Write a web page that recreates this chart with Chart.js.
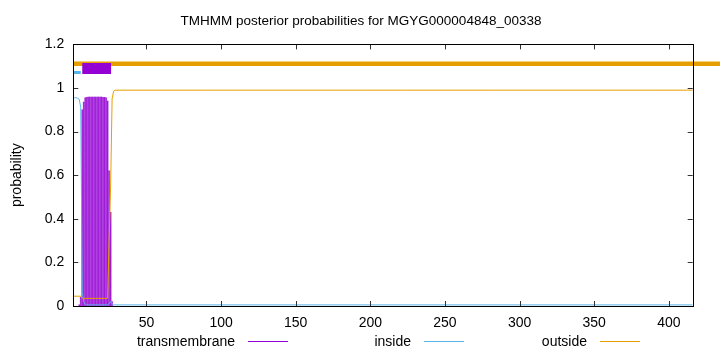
<!DOCTYPE html>
<html><head><meta charset="utf-8">
<script src="https://cdn.jsdelivr.net/npm/chart.js@4/dist/chart.umd.min.js"></script>
<style>
html,body{margin:0;padding:0;background:#fff;}
#wrap{position:relative;width:720px;height:352px;overflow:hidden;}
canvas{position:absolute;left:0;top:0;}
#title{position:absolute;left:0;top:13px;width:722px;text-align:center;height:18px;line-height:18px;font:13.5px 'Liberation Sans',Arial,sans-serif;color:#000;white-space:nowrap;}
.lt{position:absolute;top:333px;height:16px;line-height:16px;width:160px;text-align:right;font:14px 'Liberation Sans',Arial,sans-serif;color:#000;white-space:nowrap;}
.ll{position:absolute;top:341px;height:1px;width:40px;}
</style></head><body>
<div id="wrap"><canvas id="c" width="720" height="352"></canvas><div id="title"></div><div id="legend"></div></div>
<script>
// ---- data ----
const chartTitle = 'TMHMM posterior probabilities for MGYG000004848_00338';
const yAxisLabel = 'probability';
const seqLength = 416;
const xTicks = [50, 100, 150, 200, 250, 300, 350, 400];
const yTicks = [0, 0.2, 0.4, 0.6, 0.8, 1.0, 1.2];
const seriesNames = ['transmembrane', 'inside', 'outside'];
const seriesColors = ['#9400d3', '#56b4e9', '#e69f00'];

// transmembrane posterior (impulses)
const tmResidues = [5, 6, 7, 8, 9, 10, 11, 12, 13, 14, 15, 16, 17, 18, 19, 20, 21, 22, 23, 24, 25, 26, 27];
const tmProb = [0.005, 0.04, 0.90, 0.935, 0.955, 0.957, 0.958, 0.958, 0.958, 0.958, 0.958, 0.958, 0.958, 0.958, 0.958, 0.958, 0.957, 0.957, 0.955, 0.94, 0.62, 0.43, 0.02];

// inside posterior
const insideX = [1, 2, 3, 4, 5, 6, 7, 8, 9, 10, 24, 25, 26, 27, 28, 416];
const insideY = [0.955, 0.955, 0.955, 0.953, 0.948, 0.91, 0.06, 0.02, 0.008, 0.005, 0.005, 0.01, 0.02, 0.01, 0.005, 0.005];

// outside posterior
const outsideX = [1, 6, 7, 24, 25, 26, 27, 28, 29, 416];
const outsideY = [0.045, 0.045, 0.035, 0.035, 0.30, 0.55, 0.95, 0.985, 0.99, 0.99];

// predicted topology bands drawn above the curves
const insideBandX = [1, 6];
const insideBandY = 1.071;
const tmBandX = [7, 26.3];
const tmBandY = 1.09;
const outsideBandX = [1, 435];
const outsideBandY = 1.111;

// ---- chart ----
const FONT = "'Liberation Sans', Arial, sans-serif";
const pts = (xs, ys) => xs.map((x, i) => ({x, y: Array.isArray(ys) ? ys[i] : ys}));

const frameTicks = {
  id: 'frameTicks',
  afterDatasetsDraw(chart) {
    const {ctx, chartArea: a, scales: {x, y}} = chart;
    const L = 5;
    ctx.save();
    ctx.strokeStyle = '#333';
    ctx.lineWidth = 1;
    ctx.beginPath();
    for (const t of x.ticks) {
      const px = Math.round(x.getPixelForValue(t.value)) + 0.5;
      ctx.moveTo(px, a.bottom); ctx.lineTo(px, a.bottom - L);
      ctx.moveTo(px, a.top); ctx.lineTo(px, a.top + L);
    }
    for (const t of y.ticks) {
      const py = Math.round(y.getPixelForValue(t.value)) + 0.5;
      ctx.moveTo(a.left, py); ctx.lineTo(a.left + L, py);
      ctx.moveTo(a.right, py); ctx.lineTo(a.right - L, py);
    }
    ctx.stroke();
    ctx.strokeStyle = '#000';
    ctx.strokeRect(Math.round(a.left) + 0.5, Math.round(a.top) + 0.5,
      Math.round(a.right) - Math.round(a.left), Math.round(a.bottom) - Math.round(a.top));
    ctx.restore();
  }
};

const tmData = pts(tmResidues, tmProb);

new Chart(document.getElementById('c'), {
  type: 'bar',
  data: {
    datasets: [
      {label: seriesNames[0] + ' fill', type: 'bar', data: tmData, backgroundColor: 'rgba(148,0,211,0.3)',
        barThickness: 1.5, grouped: false, order: 3},
      {label: seriesNames[0], type: 'bar', data: tmData, backgroundColor: 'rgba(148,0,211,0.85)',
        barThickness: 0.6, grouped: false, order: 2},
      {label: seriesNames[1], type: 'line', data: pts(insideX, insideY), borderColor: seriesColors[1],
        borderWidth: 1, pointRadius: 0, fill: false, tension: 0, order: 1},
      {label: seriesNames[2], type: 'line', data: pts(outsideX, outsideY), borderColor: seriesColors[2],
        borderWidth: 1, pointRadius: 0, fill: false, tension: 0, order: 1},
      {label: 'outside band', type: 'line', data: pts(outsideBandX, outsideBandY), borderColor: seriesColors[2],
        borderWidth: 4.5, pointRadius: 0, clip: false, borderCapStyle: 'butt', order: 1},
      {label: 'inside band', type: 'line', data: pts(insideBandX, insideBandY), borderColor: seriesColors[1],
        borderWidth: 3, pointRadius: 0, borderCapStyle: 'butt', order: 1},
      {label: 'tm band', type: 'line', data: pts(tmBandX, tmBandY), borderColor: seriesColors[0],
        borderWidth: 11, pointRadius: 0, borderCapStyle: 'butt', order: 0}
    ]
  },
  options: {
    responsive: false, animation: false, devicePixelRatio: 1, events: [],
    layout: {padding: {left: 0, right: 27.3, top: 44.4, bottom: 0}},
    plugins: {legend: {display: false}, tooltip: {enabled: false}, title: {display: false}},
    scales: {
      x: {
        type: 'linear', min: 1, max: seqLength, offset: false,
        grid: {display: false, offset: false}, border: {display: false},
        afterBuildTicks: s => { s.ticks = xTicks.map(v => ({value: v})); },
        afterFit: s => { s.height = 46; },
        ticks: {color: '#000', font: {family: FONT, size: 14}, padding: 1, maxRotation: 0,
          callback: v => String(v)}
      },
      y: {
        min: 0, max: 1.2,
        grid: {display: false}, border: {display: false},
        afterBuildTicks: s => { s.ticks = yTicks.map(v => ({value: v})); },
        afterFit: s => { s.width = 73.3; },
        title: {display: true, text: yAxisLabel, color: '#000',
          font: {family: FONT, size: 14, lineHeight: 1.2}, padding: {top: 9, bottom: 0}},
        ticks: {color: '#000', font: {family: FONT, size: 14}, padding: 1,
          callback: v => String(Math.round(v * 10) / 10)}
      }
    }
  },
  plugins: [frameTicks]
});

document.getElementById('title').textContent = chartTitle;

// legend (text then line sample, gnuplot style)
const legendLineStart = [248, 424, 600];
const legendEl = document.getElementById('legend');
seriesNames.forEach((n, i) => {
  const t = document.createElement('div');
  t.className = 'lt'; t.textContent = n;
  t.style.left = (legendLineStart[i] - 13 - 160) + 'px';
  legendEl.appendChild(t);
  const l = document.createElement('div');
  l.className = 'll'; l.style.left = legendLineStart[i] + 'px';
  l.style.background = seriesColors[i];
  legendEl.appendChild(l);
});
</script>
</body></html>
